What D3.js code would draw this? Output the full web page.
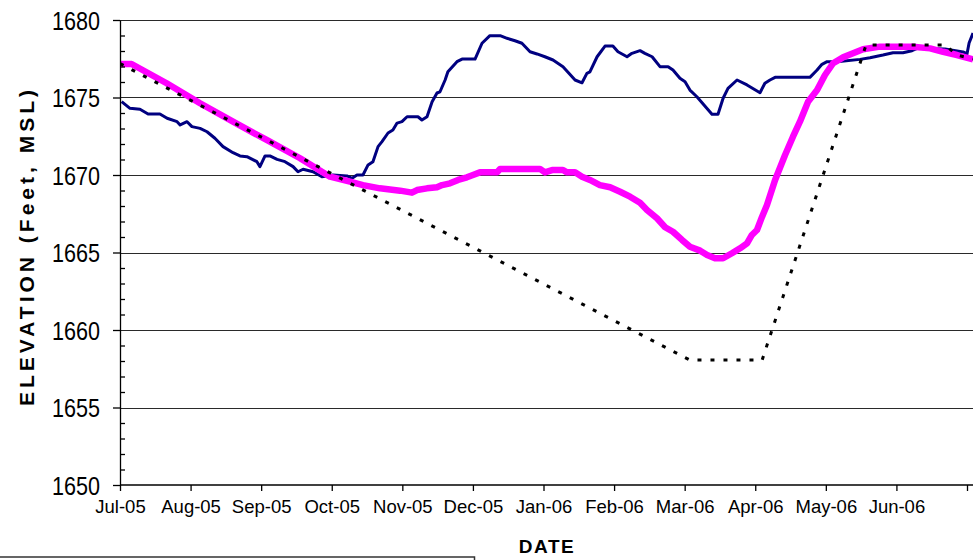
<!DOCTYPE html>
<html>
<head>
<meta charset="utf-8">
<script src="https://cdn.jsdelivr.net/npm/d3@7"></script>
<style>
  body { margin: 0; background: #fff; }
  svg { display: block; font-family: "Liberation Sans", Arial, sans-serif; }
  .grid line { stroke: #2a2a2a; stroke-width: 1; shape-rendering: crispEdges; }
  .axis path, .axis line { stroke: #000; stroke-width: 1.3; }
  .axis text { fill: #000; font-family: "Liberation Sans", Arial, sans-serif; }
</style>
</head>
<body>
<div id="chart"></div>
<script>
// --- data: days since Jul 1 2005, elevation (ft MSL) ---
const monthLabels = ["Jul-05", "Aug-05", "Sep-05", "Oct-05", "Nov-05", "Dec-05", "Jan-06",
  "Feb-06", "Mar-06", "Apr-06", "May-06", "Jun-06", ""];
const yMajorTicks = [1650, 1655, 1660, 1665, 1670, 1675, 1680];

// observed lake elevation (navy)
const actualElev = [
  [0.7, 1674.73], [4.3, 1674.30], [8.6, 1674.24], [12.1, 1673.94], [17.2, 1673.94],
  [20.3, 1673.66], [24.6, 1673.44], [25.9, 1673.23], [28.9, 1673.44], [31.0, 1673.12],
  [34.5, 1673.01], [37.5, 1672.79], [40.9, 1672.37], [44.4, 1671.83], [48.7, 1671.44],
  [51.7, 1671.23], [54.7, 1671.18], [59.0, 1670.86], [60.3, 1670.54], [62.5, 1671.23],
  [64.6, 1671.23], [67.7, 1671.01], [71.1, 1670.86], [74.6, 1670.54], [76.7, 1670.21],
  [78.9, 1670.37], [83.2, 1670.21], [87.0, 1669.89], [91.8, 1670.00], [97.8, 1669.94],
  [100.0, 1669.79], [102.1, 1670.00], [104.7, 1670.00], [106.9, 1670.65], [109.0, 1670.86],
  [111.2, 1671.83], [112.9, 1672.15], [115.5, 1672.71], [117.6, 1672.90], [119.4, 1673.35],
  [121.5, 1673.44], [123.7, 1673.76], [128.4, 1673.76], [130.1, 1673.55], [132.3, 1673.76],
  [134.5, 1674.73], [136.6, 1675.29], [137.9, 1675.37], [140.1, 1676.13], [141.3, 1676.66],
  [145.2, 1677.31], [147.4, 1677.48], [153.0, 1677.48], [156.0, 1678.50], [159.4, 1678.99],
  [163.8, 1678.99], [166.8, 1678.82], [170.2, 1678.66], [173.2, 1678.50], [176.7, 1677.95],
  [179.7, 1677.81], [183.1, 1677.63], [186.6, 1677.42], [190.9, 1676.99], [196.1, 1676.13],
  [199.1, 1675.95], [201.2, 1676.56], [202.5, 1676.65], [205.6, 1677.63], [209.0, 1678.32],
  [212.4, 1678.32], [214.6, 1677.95], [218.5, 1677.63], [220.6, 1677.85], [224.1, 1678.02],
  [226.2, 1677.85], [229.3, 1677.63], [232.7, 1676.99], [236.2, 1676.99], [238.3, 1676.77],
  [241.3, 1676.24], [243.5, 1676.02], [245.6, 1675.48], [248.6, 1675.05], [255.1, 1673.92],
  [257.7, 1673.92], [259.9, 1674.95], [262.0, 1675.59], [265.9, 1676.13], [270.2, 1675.81],
  [275.8, 1675.31], [277.9, 1675.92], [280.1, 1676.13], [282.3, 1676.30], [297.3, 1676.30],
  [300.4, 1676.77], [302.5, 1677.14], [304.7, 1677.31], [309.0, 1677.31], [318.9, 1677.46],
  [323.2, 1677.57], [328.8, 1677.74], [333.1, 1677.89], [337.4, 1677.89], [341.3, 1678.02],
  [343.5, 1678.17], [355.5, 1678.13], [363.3, 1677.94], [365.0, 1677.81], [365.9, 1678.52],
  [367.6, 1679.16]
];

// projected / average elevation (magenta)
const projectedElev = [
  [0, 1677.16], [5.0, 1677.16], [20.1, 1675.92], [34.5, 1674.63], [48.7, 1673.44],
  [63.2, 1672.26], [77.6, 1671.08], [90.5, 1669.89], [99.1, 1669.57], [104.7, 1669.35],
  [112.0, 1669.14], [120.7, 1668.99], [125.8, 1668.86], [128.0, 1669.03], [132.3, 1669.14],
  [136.6, 1669.21], [138.8, 1669.35], [142.2, 1669.46], [145.7, 1669.68], [149.5, 1669.85],
  [152.1, 1670.00], [155.1, 1670.17], [162.5, 1670.17], [163.8, 1670.39], [181.0, 1670.39],
  [183.1, 1670.17], [186.2, 1670.32], [190.9, 1670.32], [192.6, 1670.17], [196.1, 1670.17],
  [199.1, 1669.89], [202.5, 1669.68], [206.8, 1669.35], [211.2, 1669.21], [215.5, 1668.92],
  [219.8, 1668.60], [224.1, 1668.21], [227.1, 1667.74], [231.4, 1667.21], [234.9, 1666.63],
  [238.3, 1666.34], [242.2, 1665.81], [245.6, 1665.37], [250.0, 1665.12], [253.0, 1664.84],
  [256.4, 1664.63], [259.9, 1664.63], [263.7, 1664.95], [267.2, 1665.27], [270.2, 1665.59],
  [272.3, 1666.13], [274.5, 1666.45], [276.7, 1667.31], [278.8, 1668.06], [282.3, 1669.68],
  [286.6, 1671.29], [290.0, 1672.47], [293.0, 1673.44], [296.5, 1674.73], [300.4, 1675.48],
  [303.8, 1676.45], [307.3, 1677.21], [311.6, 1677.59], [315.9, 1677.85], [320.2, 1678.11],
  [327.5, 1678.28], [341.7, 1678.28], [349.1, 1678.17], [354.7, 1677.95], [360.7, 1677.74],
  [367.6, 1677.46]
];

// rule curve (black dotted)
const ruleCurve = [
  [0, 1677.19], [245.6, 1658.06], [276.7, 1658.06], [321.5, 1678.39],
  [355.5, 1678.39], [360.7, 1677.74], [367.6, 1677.48]
];

// --- sizing ---
const W = 973, H = 560;
const plot = { left: 120, right: 967, top: 20, bottom: 485, edge: 973 };

const svg = d3.select("#chart").append("svg")
  .attr("width", W)
  .attr("height", H);

// category style axis: 12 equal month slots
const x = d3.scaleLinear().domain([0, 365]).range([plot.left, plot.right]);
const y = d3.scaleLinear().domain([1650, 1680]).range([plot.bottom, plot.top]);

// gridlines
svg.append("g").attr("class", "grid")
  .selectAll("line")
  .data(yMajorTicks.filter(d => d > 1650))
  .enter().append("line")
  .attr("x1", plot.left)
  .attr("x2", plot.edge)
  .attr("y1", d => Math.round(y(d)) + 0.5)
  .attr("y2", d => Math.round(y(d)) + 0.5);

// clip to the visible plot area
svg.append("defs").append("clipPath").attr("id", "plot-clip")
  .append("rect")
  .attr("x", plot.left).attr("y", 0)
  .attr("width", plot.edge - plot.left).attr("height", plot.bottom);

const line = d3.line()
  .x(d => x(d[0]))
  .y(d => y(d[1]));

const series = svg.append("g").attr("clip-path", "url(#plot-clip)");

series.append("path")
  .datum(actualElev)
  .attr("fill", "none")
  .attr("stroke", "#000080")
  .attr("stroke-width", 3)
  .attr("stroke-linejoin", "round")
  .attr("d", line);

series.append("path")
  .datum(projectedElev)
  .attr("fill", "none")
  .attr("stroke", "#ff00ff")
  .attr("stroke-width", 6.5)
  .attr("stroke-linejoin", "round")
  .attr("d", line);

series.append("path")
  .datum(ruleCurve)
  .attr("fill", "none")
  .attr("stroke", "#000")
  .attr("stroke-width", 3)
  .attr("stroke-dasharray", "4,9")
  .attr("d", line);

// --- y axis ---
const yAxis = svg.append("g")
  .attr("class", "axis axis--y")
  .attr("transform", `translate(${plot.left},0)`)
  .call(d3.axisLeft(y).tickValues(yMajorTicks).tickFormat(d3.format("d"))
    .tickSize(7).tickSizeOuter(0).tickPadding(13));

yAxis.selectAll("text")
  .style("font-size", "25px")
  .attr("textLength", 48)
  .attr("lengthAdjust", "spacingAndGlyphs")
  .attr("dy", "0.36em");

// minor ticks (inside)
svg.append("g")
  .attr("class", "axis axis--minor")
  .attr("transform", `translate(${plot.left},0)`)
  .call(d3.axisRight(y).tickValues(d3.range(1651, 1680).filter(d => d % 5 !== 0))
    .tickSize(5).tickSizeOuter(0).tickFormat(""))
  .select(".domain").remove();

// --- x axis ---
const xAxis = svg.append("g")
  .attr("class", "axis axis--x")
  .attr("transform", `translate(0,${plot.bottom})`)
  .call(d3.axisBottom(x)
    .tickValues(monthLabels.map((d, i) => i * 365 / 12))
    .tickFormat((d, i) => monthLabels[i])
    .tickSize(6).tickSizeOuter(0).tickPadding(9));

xAxis.select(".domain")
  .attr("d", `M${plot.left},0H${plot.edge}`);

xAxis.selectAll("text")
  .style("font-size", "18.5px")
  .attr("dy", "0.71em");

// --- axis titles ---
svg.append("text")
  .attr("transform", "translate(34,246) rotate(-90)")
  .attr("text-anchor", "middle")
  .attr("font-size", 21)
  .attr("font-weight", "bold")
  .attr("letter-spacing", 4)
  .text("ELEVATION (Feet, MSL)");

svg.append("text")
  .attr("x", 547)
  .attr("y", 553)
  .attr("text-anchor", "middle")
  .attr("font-size", 19)
  .attr("font-weight", "bold")
  .attr("letter-spacing", 1.5)
  .text("DATE");

// legend box (cut off at the bottom edge)
svg.append("rect")
  .attr("x", -4)
  .attr("y", 557)
  .attr("width", 478.5)
  .attr("height", 20)
  .attr("fill", "#fff")
  .attr("stroke", "#333")
  .attr("stroke-width", 1.5);
</script>
</body>
</html>
